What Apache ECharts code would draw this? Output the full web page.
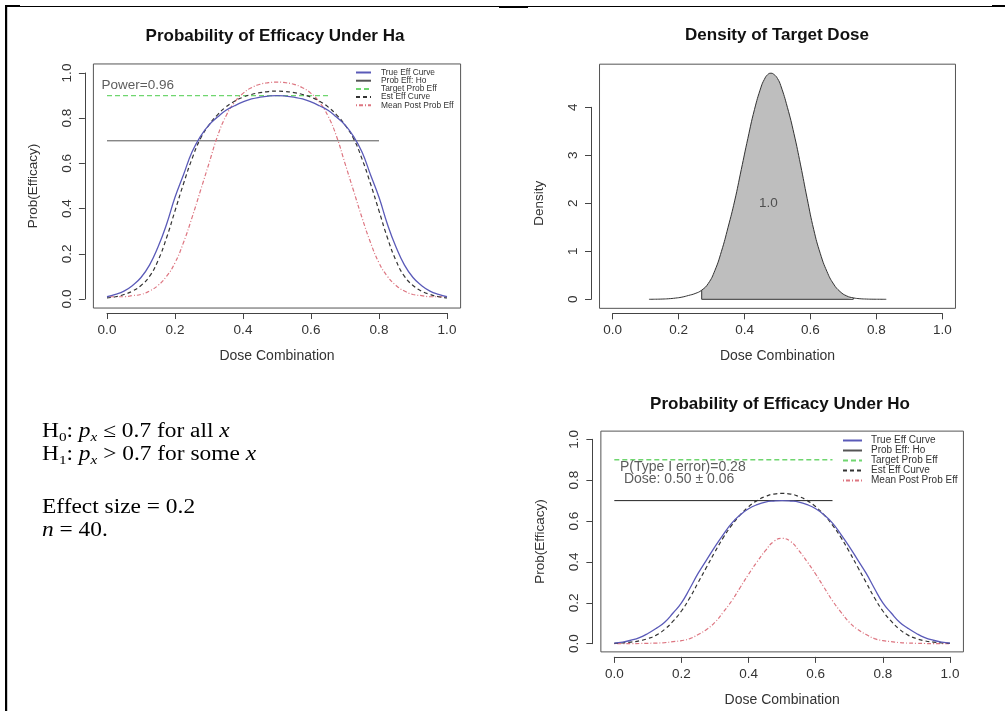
<!DOCTYPE html>
<html><head><meta charset="utf-8">
<script src="https://cdn.jsdelivr.net/npm/echarts@6/dist/echarts.min.js"></script>
<style>html,body{margin:0;padding:0;background:#fff}#c{width:1005px;height:711px}</style>
</head><body><div id="c"></div>
<script>
// ---------------- data ----------------
const dose = [0,0.025,0.05,0.075,0.1,0.125,0.15,0.175,0.2,0.225,0.25,0.275,0.3,0.325,0.35,0.375,0.4,0.425,0.45,0.475,0.5,
              0.525,0.55,0.575,0.6,0.625,0.65,0.675,0.7,0.725,0.75,0.775,0.8,0.825,0.85,0.875,0.9,0.925,0.95,0.975,1];

// Probability of Efficacy Under Ha
const haTrue = [0.01,0.02,0.035,0.06,0.095,0.15,0.23,0.33,0.45,0.55,0.65,0.72,0.77,0.805,0.835,0.855,0.872,0.885,0.893,0.898,0.9,
                0.898,0.893,0.885,0.872,0.855,0.835,0.805,0.77,0.72,0.65,0.55,0.45,0.33,0.23,0.15,0.095,0.06,0.035,0.02,0.01];
const haEst  = [0.005,0.01,0.02,0.035,0.06,0.1,0.17,0.27,0.39,0.51,0.62,0.71,0.77,0.815,0.85,0.875,0.893,0.905,0.913,0.918,0.92,
                0.918,0.913,0.905,0.893,0.875,0.85,0.815,0.77,0.71,0.62,0.51,0.39,0.27,0.17,0.1,0.06,0.035,0.02,0.01,0.005];
const haPost = [0.01,0.01,0.01,0.015,0.02,0.035,0.06,0.1,0.16,0.25,0.36,0.48,0.6,0.72,0.81,0.87,0.91,0.935,0.95,0.957,0.96,
                0.957,0.95,0.935,0.91,0.87,0.81,0.72,0.6,0.48,0.36,0.25,0.16,0.1,0.06,0.035,0.02,0.015,0.01,0.01,0.01];
const haTarget = [[0,0.9],[0.65,0.9]];
const haNull   = [[0,0.7],[0.8,0.7]];

// Probability of Efficacy Under Ho
const hoTrue = [0.003,0.008,0.017,0.03,0.05,0.075,0.105,0.15,0.2,0.27,0.345,0.41,0.475,0.535,0.59,0.63,0.66,0.68,0.693,0.698,0.7,
                0.698,0.693,0.68,0.66,0.63,0.59,0.535,0.475,0.41,0.345,0.27,0.2,0.15,0.105,0.075,0.05,0.03,0.017,0.008,0.003];
const hoEst  = [0.002,0.004,0.008,0.014,0.025,0.042,0.07,0.11,0.16,0.225,0.3,0.375,0.45,0.52,0.58,0.63,0.67,0.7,0.72,0.732,0.735,
                0.732,0.72,0.7,0.67,0.63,0.58,0.52,0.45,0.375,0.3,0.225,0.16,0.11,0.07,0.042,0.025,0.014,0.008,0.004,0.002];
const hoPost = [0,0,0,0.001,0.002,0.003,0.005,0.01,0.015,0.025,0.045,0.07,0.105,0.155,0.21,0.275,0.34,0.4,0.455,0.5,0.515,
                0.5,0.455,0.4,0.34,0.275,0.21,0.155,0.105,0.07,0.045,0.025,0.015,0.01,0.005,0.003,0.002,0.001,0,0,0];
const hoTarget = [[0,0.9],[0.65,0.9]];
const hoNull   = [[0,0.7],[0.65,0.7]];

// Density of Target Dose
const densX = [0.11,0.13,0.15,0.17,0.19,0.21,0.23,0.25,0.27,0.29,0.31,0.33,0.35,0.37,0.39,0.41,0.43,0.45,0.46,0.47,0.48,0.49,
               0.5,0.51,0.53,0.55,0.57,0.59,0.61,0.63,0.65,0.67,0.69,0.71,0.73,0.75,0.77,0.79,0.81,0.83];
const densY = [0,0.002,0.005,0.012,0.025,0.045,0.08,0.12,0.19,0.33,0.6,1.0,1.5,2.05,2.7,3.35,3.95,4.42,4.58,4.68,4.71,4.68,
               4.6,4.45,4.0,3.45,2.8,2.1,1.45,0.95,0.58,0.32,0.16,0.07,0.03,0.012,0.005,0.002,0.001,0];
const densFillFrom = 0.27, densFillTo = 0.73;
const densProb = '1.0';

const legendNames = ['True Eff Curve','Prob Eff: Ho','Target Prob Eff','Est Eff Curve','Mean Post Prob Eff'];
const titles = ['Probability of Efficacy Under Ha','Density of Target Dose','Probability of Efficacy Under Ho'];
const haNote = 'Power=0.96';
const hoNote1 = 'P(Type I error)=0.28';
const hoNote2 = ' Dose: 0.50 \u00b1 0.06';

// ---------------- layout / style ----------------
const FONT = '"Liberation Sans", Arial, Helvetica, sans-serif';
const SERIF = '"Liberation Serif", "Times New Roman", serif';
const TXT = '#333';
const G = [
  {left:107,   top:73,    width:340,   height:226,   ymax:1, yint:0.2, ydata:1},
  {left:612.7, top:107.3, width:329.6, height:192,   ymax:4, yint:1,   ydata:Math.max(...densY)},
  {left:614.3, top:439.3, width:335.7, height:204.4, ymax:1, yint:0.2, ydata:1}
];
const grids = [], xAxes = [], yAxes = [];
G.forEach((g,i) => {
  grids.push({left:g.left, top:g.top, width:g.width, height:g.height, show:false});
});
G.forEach((g,i) => {
  const py = g.height / g.ymax;
  const padY = 0.04 * g.ydata * py, padX = 0.04 * g.width;
  const bottom = g.top + g.height;
  grids.push({left:g.left - padX, width:g.width + 2*padX,
              top:bottom - g.ydata*py - padY, height:g.ydata*py + 2*padY,
              show:true, borderColor:'#555', borderWidth:1, backgroundColor:'transparent', z:0});
  g.xOff = padY + 5; g.yOff = padX + 8.5;
});
const axLine = {show:true, onZero:false, lineStyle:{color:'#444', width:1}};
const axTick = {show:true, length:6, lineStyle:{color:'#444', width:1}};
G.forEach((g,i) => {
  xAxes.push({type:'value', gridIndex:i, min:0, max:1, interval:0.2, offset:g.xOff,
    axisLine:axLine, axisTick:axTick, splitLine:{show:false},
    axisLabel:{margin:10, fontSize:13.5, color:TXT, fontFamily:FONT, formatter:v=>v.toFixed(1)},
    name:'Dose Combination', nameLocation:'middle', nameGap:36,
    nameTextStyle:{fontSize:14, color:TXT, fontFamily:FONT}});
  yAxes.push({type:'value', gridIndex:i, min:0, max:g.ymax, interval:g.yint, offset:g.yOff,
    axisLine:axLine, axisTick:axTick, splitLine:{show:false},
    axisLabel:{margin:11, rotate:90, fontSize:13.5, color:TXT, fontFamily:FONT,
      formatter: g.ymax===1 ? (v=>v.toFixed(1)) : (v=>String(v))},
    name: i===1 ? 'Density' : 'Prob(Efficacy)', nameLocation:'middle', nameGap:45,
    nameTextStyle:{fontSize:13.5, color:TXT, fontFamily:FONT}});
});
G.forEach((g,i) => {
  xAxes.push({type:'value', gridIndex:3+i, show:false, min:0, max:1});
  yAxes.push({type:'value', gridIndex:3+i, show:false, min:0, max:1});
});

const C = {blue:'#5a5ab8', green:'#6fd66f', est:'#333', red:'#dd7580'};
const pairs = (xs, ys) => xs.map((x,k) => [x, ys[k]]);
function curve(name, idx, data, color, type, width, smooth, z) {
  return {name, type:'line', xAxisIndex:idx, yAxisIndex:idx, data, smooth:smooth, symbol:'none',
          clip:false, silent:true, z:z||2, lineStyle:{color, width, type}, itemStyle:{color}};
}
function note(idx, x, y, text, size, pos) {
  return {type:'scatter', xAxisIndex:idx, yAxisIndex:idx, data:[[x,y]], symbolSize:0, silent:true, z:5, clip:false,
          label:{show:true, position:pos||'right', distance:0, formatter:text, fontSize:size, color:TXT, fontFamily:FONT}};
}

const fillCurve = pairs(densX,densY).filter(p=>p[0]>=densFillFrom-1e-9 && p[0]<=densFillTo+1e-9);
const fillEdges = [fillCurve[0], [densFillFrom,0], [densFillTo,0], fillCurve[fillCurve.length-1]];

const series = [
  curve('Target Prob Eff', 0, haTarget, C.green, [5,3], 1.4, false),
  curve('Prob Eff: Ho', 0, haNull, '#555', 'solid', 1, false),
  curve('Mean Post Prob Eff', 0, pairs(dose,haPost), C.red, [1,2,4,2], 1.2, true),
  curve('Est Eff Curve', 0, pairs(dose,haEst), C.est, [4,3], 1.2, true),
  curve('True Eff Curve', 0, pairs(dose,haTrue), C.blue, 'solid', 1.3, true, 3),
  note(0, -0.016, 0.947, haNote, 13.5),

  {type:'line', xAxisIndex:1, yAxisIndex:1, data:fillCurve, smooth:true, symbol:'none', silent:true, clip:false,
   lineStyle:{width:0}, areaStyle:{color:'#bebebe', opacity:1}, z:1},
  curve('densityEdge', 1, fillEdges, '#333', 'solid', 1, false, 2),
  curve('density', 1, pairs(densX,densY), '#333', 'solid', 1, true, 2),
  note(1, 0.472, 2.0, densProb, 13.5, 'inside'),

  curve('Target Prob Eff', 2, hoTarget, C.green, [5,3], 1.4, false),
  curve('Prob Eff: Ho', 2, hoNull, '#222', 'solid', 1, false),
  curve('Mean Post Prob Eff', 2, pairs(dose,hoPost), C.red, [1,2,4,2], 1.2, true),
  curve('Est Eff Curve', 2, pairs(dose,hoEst), C.est, [4,3], 1.2, true),
  curve('True Eff Curve', 2, pairs(dose,hoTrue), C.blue, 'solid', 1.3, true, 3),
  note(2, 0.017, 0.862, hoNote1, 14),
  note(2, 0.017, 0.804, hoNote2, 14)
];

const hiddenSymbol = {color:'rgba(0,0,0,0)', borderColor:'rgba(0,0,0,0)', borderWidth:0, opacity:0};
const legendBase = {orient:'vertical', padding:0, selectedMode:false, data:legendNames, itemStyle:hiddenSymbol};
const legends = [
  Object.assign({}, legendBase, {left:355, top:68.5, itemWidth:15, itemHeight:8, itemGap:0.2,
    textStyle:{fontSize:8.4, lineHeight:8, color:TXT, fontFamily:FONT, padding:[0,0,0,5]}}),
  Object.assign({}, legendBase, {left:842, top:435.5, itemWidth:19, itemHeight:9, itemGap:0,
    textStyle:{fontSize:10, lineHeight:9, color:TXT, fontFamily:FONT, padding:[0,0,0,4]}})
];

const titleCfg = (text, x, y) => ({text, left:x, top:y, textAlign:'center', padding:0,
  textStyle:{fontSize:17, fontWeight:'bold', color:'#111', fontFamily:FONT}});

// left text block (real text, rich for sub/italics)
const rich = {
  m:{fontFamily:SERIF, fontSize:20, lineHeight:20, verticalAlign:'top', color:'#000'},
  i:{fontFamily:SERIF, fontSize:20, lineHeight:20, verticalAlign:'top', fontStyle:'italic', color:'#000'},
  s:{fontFamily:SERIF, fontSize:13, lineHeight:32, verticalAlign:'middle', color:'#000'},
  si:{fontFamily:SERIF, fontSize:13, lineHeight:32, verticalAlign:'middle', fontStyle:'italic', color:'#000'}
};
const textLines = [
  ['{m|H}{s|0}{m|: }{i|p}{si|x}{m| \u2264 0.7 for all }{i|x}', 432],
  ['{m|H}{s|1}{m|: }{i|p}{si|x}{m| > 0.7 for some }{i|x}', 455],
  ['{m|Effect size = 0.2}', 508],
  ['{i|n}{m| = 40.}', 531]
];
const graphics = textLines.map(([t,yc]) => ({type:'text', x:42, y:yc-10, scaleX:1.17,
  style:{text:t, rich, verticalAlign:'top'}}));
// table borders
[[5,6,1000,1],[5,5,15,2],[499,6,29,2],[992,5,13,2],[5,5,2.2,706]].forEach(r => {
  graphics.push({type:'rect', shape:{x:r[0], y:r[1], width:r[2], height:r[3]}, style:{fill:'#000'}, silent:true});
});

const chart = echarts.init(document.getElementById('c'), null, {renderer:'canvas'});
chart.setOption({
  animation:false,
  backgroundColor:'#fff',
  title:[titleCfg(titles[0],275,28), titleCfg(titles[1],777,27), titleCfg(titles[2],780,396)],
  legend:legends,
  grid:grids, xAxis:xAxes, yAxis:yAxes,
  series, graphic:graphics
});
</script>
</body></html>
